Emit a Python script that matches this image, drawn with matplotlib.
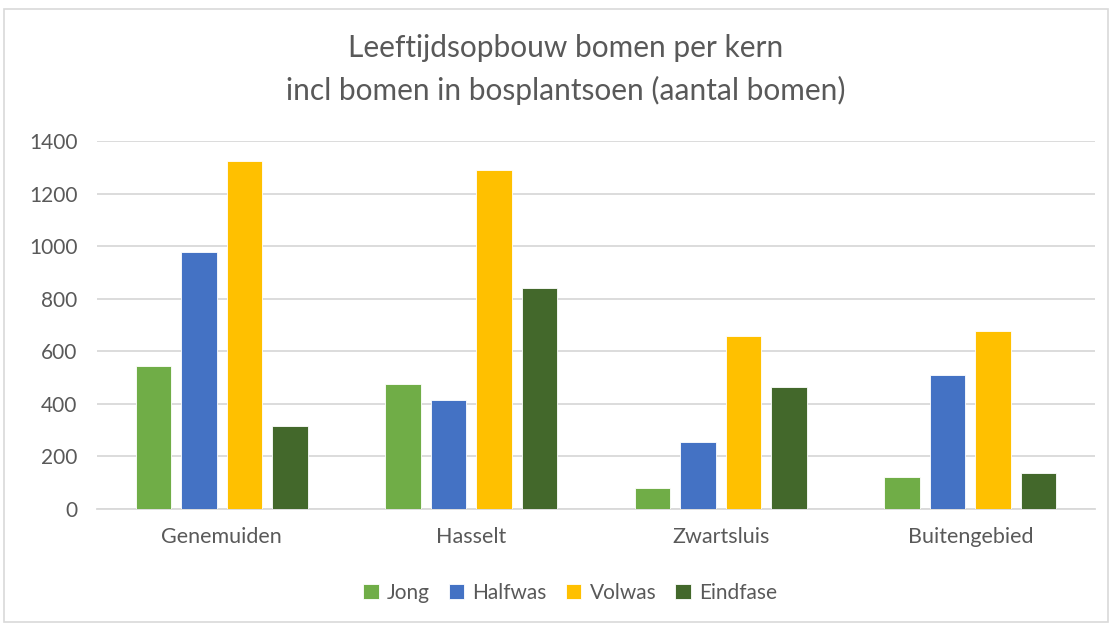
import numpy as np
from matplotlib import pyplot as plt
from matplotlib.patches import Rectangle

kernen = ['Genemuiden', 'Hasselt', 'Zwartsluis', 'Buitengebied']
series = ['Jong', 'Halfwas', 'Volwas', 'Eindfase']
jong = [543, 476, 79, 122]
halfwas = [976, 416, 256, 511]
volwas = [1324, 1288, 657, 676]
eindfase = [315, 840, 463, 137]
kleuren = ['#70AD47', '#4472C4', '#FFC000', '#43682B']

plt.rcParams['font.family'] = ['Lato', 'DejaVu Sans']
grijs = '#595959'

fig = plt.figure(figsize=(11.1, 6.24), dpi=100)
fig.patches.append(Rectangle((4/1110, 2/624), 1104/1110, 613/624, transform=fig.transFigure,
                             fill=False, edgecolor='#d9d9d9', lw=1.2))
ax = fig.add_axes([97/1110, 1-509/624, 998/1110, 368/624])

x = np.arange(len(kernen))
w = 0.142
step = 0.182
for i, (naam, vals) in enumerate(zip(series, [jong, halfwas, volwas, eindfase])):
    ax.bar(x + (i-1.5)*step, vals, w, color=kleuren[i], label=naam,
           edgecolor='white', linewidth=0.6, zorder=3)

ax.set_xlim(-0.5, 3.5)
ax.set_ylim(0, 1400)
ax.set_yticks(range(0, 1401, 200))
ax.set_xticks(x)
ax.set_xticklabels(kernen)
ax.grid(axis='y', color='#d9d9d9', lw=1.3, zorder=0)
for s in ['top', 'right', 'left']:
    ax.spines[s].set_visible(False)
ax.spines['bottom'].set_color('#d9d9d9')
ax.spines['bottom'].set_linewidth(1.3)
ax.tick_params(length=0, labelsize=15.5, labelcolor=grijs)
ax.tick_params(axis='x', pad=13)
ax.tick_params(axis='y', labelsize=15, pad=14)

fig.text(566/1110, 1-48/624, 'Leeftijdsopbouw bomen per kern', ha='center', va='center',
         fontsize=21.5, color=grijs)
fig.text(566/1110, 1-90/624, 'incl bomen in bosplantsoen (aantal bomen)', ha='center', va='center',
         fontsize=21.5, color=grijs)

fig.legend(loc='center', bbox_to_anchor=(570/1110, 1-593/624), ncol=4, frameon=False,
           fontsize=15, labelcolor=grijs, handlelength=0.75, handleheight=0.75,
           handletextpad=0.4, columnspacing=0.9)

fig.savefig('out.png', dpi=100)
